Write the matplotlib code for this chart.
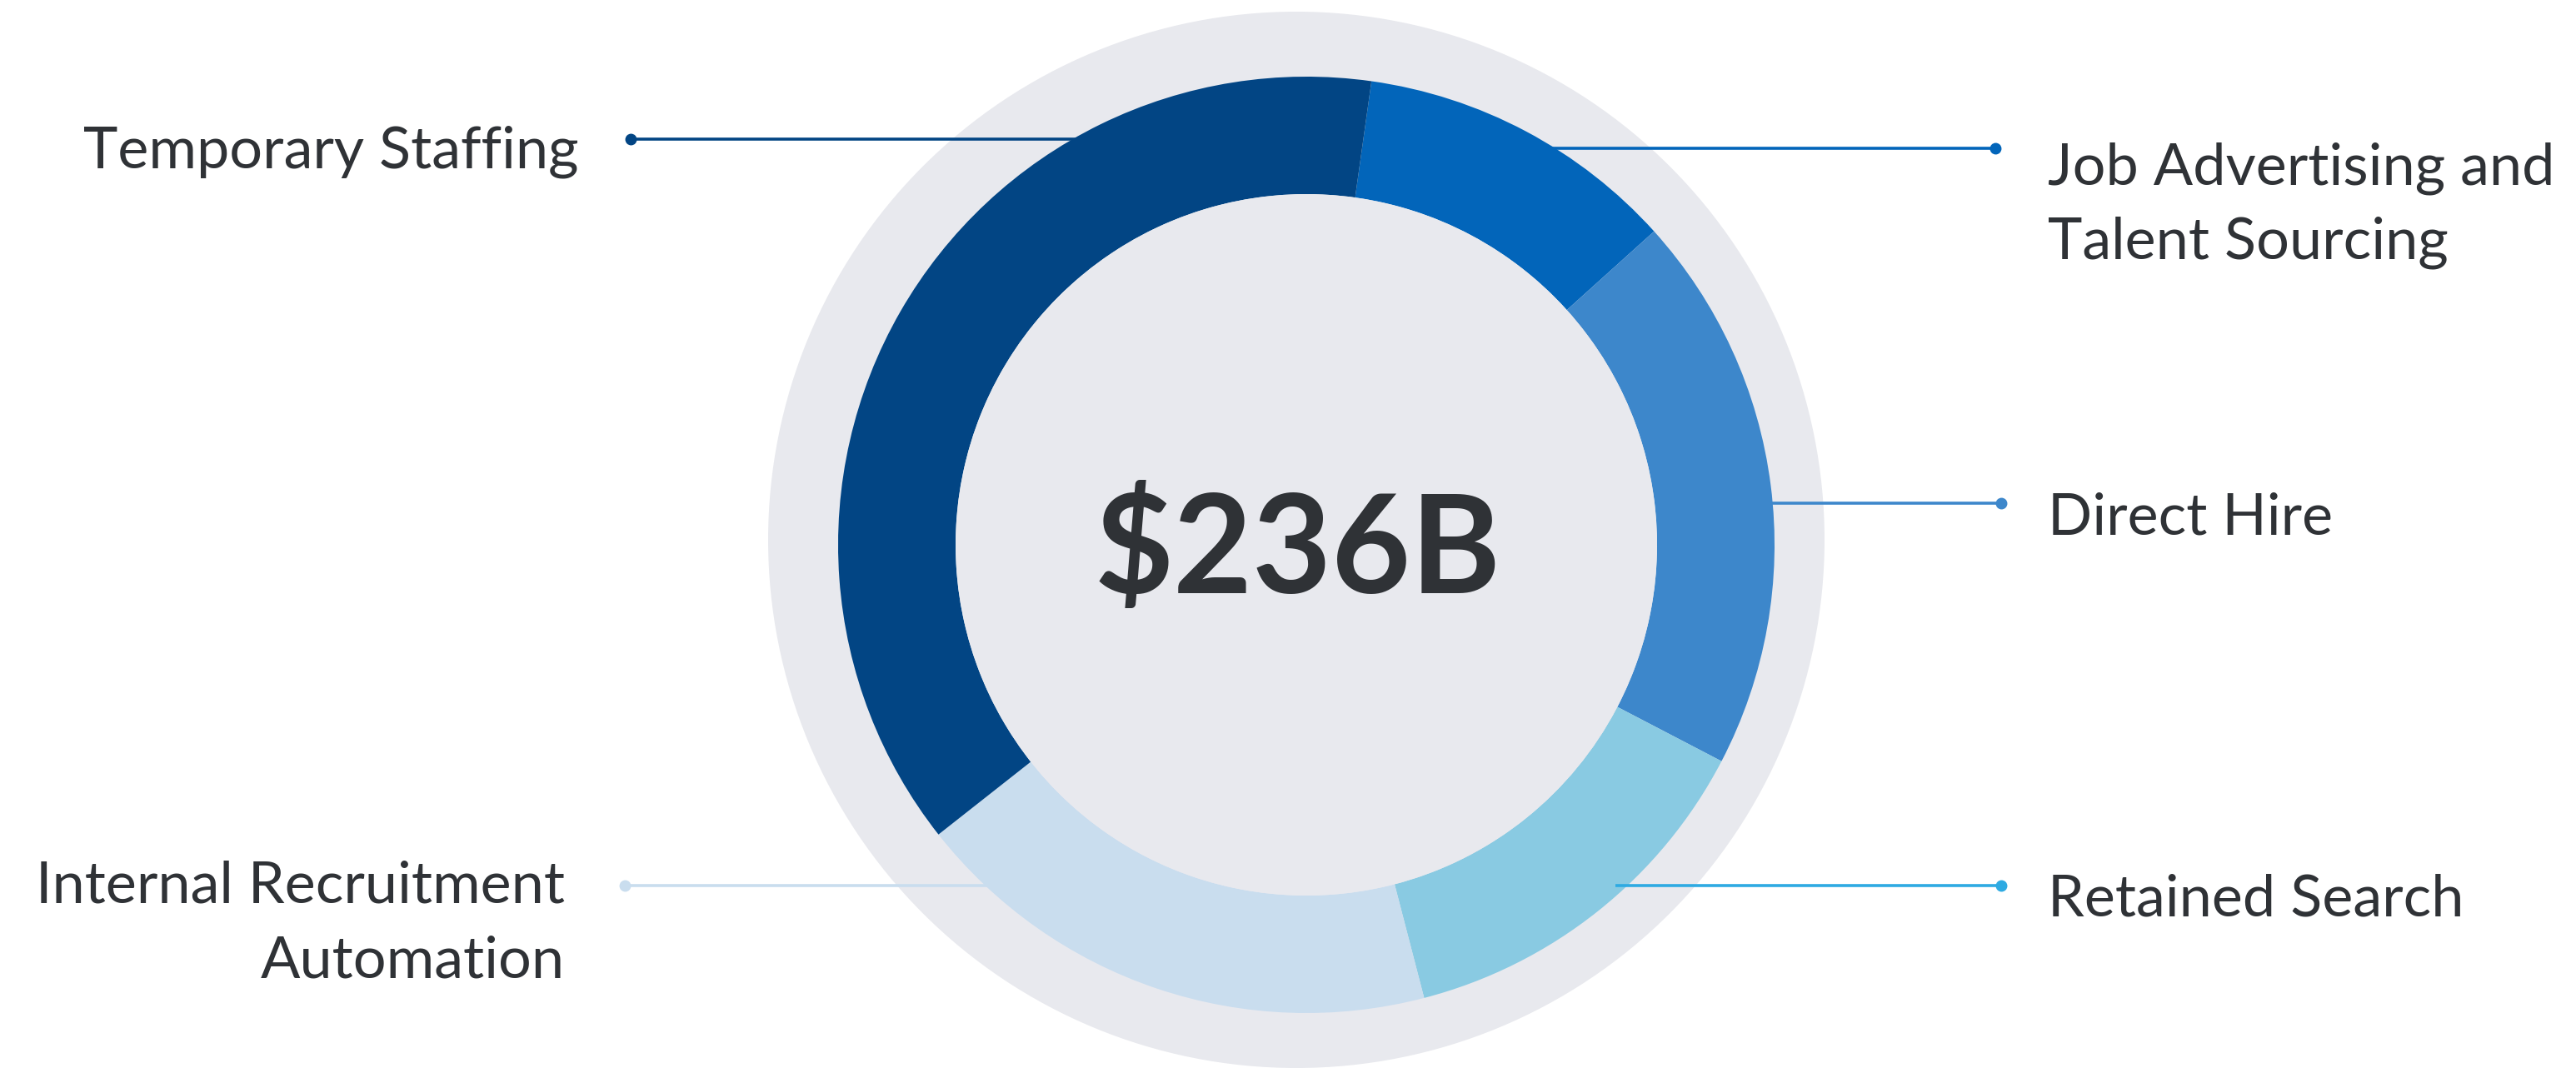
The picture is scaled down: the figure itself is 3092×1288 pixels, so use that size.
import matplotlib
matplotlib.use("Agg")
import matplotlib.pyplot as plt
from matplotlib.patches import Circle

# segment values ($B), clockwise from the top
segments = ['Job Advertising and\nTalent Sourcing', 'Direct Hire', 'Retained Search',
            'Internal Recruitment\nAutomation', 'Temporary Staffing']
values = [26.2, 45.6, 31.4, 43.5, 89.3]
colors = ['#0265BA', '#3D87CB', '#89CAE2', '#C9DDEE', '#024584']
line_colors = ['#0265BA', '#3D87CB', '#2EAAE2', '#C9DDEE', '#024584']
total_label = '$236B'

W, H = 3092, 1288
DPI = 100
GRAY = '#E8E9EE'
TXT = '#2F3236'
FONT = 'Lato'

def Y(y):
    # picture rows are counted from the top
    return H - y

fig = plt.figure(figsize=(W / DPI, H / DPI), dpi=DPI)
ax = fig.add_axes([0, 0, 1, 1])

cx, cy = 1568, 654
r_out, r_in = 562, 421

ax.add_patch(Circle((1556, Y(648)), 634, color=GRAY, zorder=0, lw=0))
ax.pie(values, colors=colors, radius=r_out, center=(cx, Y(cy)), startangle=82,
       counterclock=False, wedgeprops=dict(width=r_out - r_in, edgecolor='none'))
ax.add_patch(Circle((cx, Y(cy)), r_in, color=GRAY, zorder=3, lw=0))

# leader lines: (x start, x dot, y)
leaders = [(1812, 2395, 178), (2042, 2402, 604), (1939, 2402, 1063),
           (1235, 750, 1063), (1294, 757, 167)]
# label anchors: (x, first baseline, alignment)
anchors = [(2458, 221, 'left'), (2458, 641, 'left'), (2458, 1100, 'left'),
           (678, 1084, 'right'), (694, 201, 'right')]

for (x0, x1, y), c in zip(leaders, line_colors):
    ax.plot([x0, x1], [Y(y), Y(y)], color=c, lw=2.6, solid_capstyle='butt', zorder=5)
    ax.plot([x1], [Y(y)], 'o', color=c, ms=9, zorder=6)

for name, (x, b, ha) in zip(segments, anchors):
    for i, line in enumerate(name.split('\n')):
        ax.text(x, Y(b + i * 89), line, ha=ha, va='baseline', fontsize=50.5,
                color=TXT, family=FONT, zorder=7)

ax.text(1558, Y(712), total_label, ha='center', va='baseline', fontsize=118,
        fontweight='bold', color=TXT, family=FONT, zorder=7)

ax.set_xlim(0, W)
ax.set_ylim(0, H)
ax.set_aspect('equal')
ax.axis('off')

fig.savefig('out.png', dpi=DPI, facecolor='white')
